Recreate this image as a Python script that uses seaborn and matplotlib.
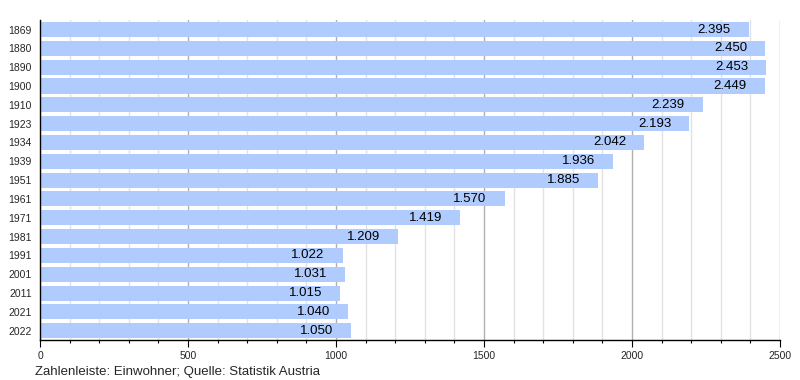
import matplotlib
matplotlib.use("Agg")
import matplotlib.pyplot as plt
from matplotlib.ticker import MultipleLocator
import seaborn as sns
import pandas as pd

# --- Daten ---
jahre = ['1869', '1880', '1890', '1900', '1910', '1923', '1934', '1939', '1951',
         '1961', '1971', '1981', '1991', '2001', '2011', '2021', '2022']
einwohner = [2395, 2450, 2453, 2449, 2239, 2193, 2042, 1936, 1885,
             1570, 1419, 1209, 1022, 1031, 1015, 1040, 1050]
quelle = 'Zahlenleiste: Einwohner; Quelle: Statistik Austria'

df = pd.DataFrame({'Jahr': jahre, 'Einwohner': einwohner})

sns.set_style("white")
plt.rcParams['font.family'] = ['Liberation Sans', 'DejaVu Sans']

fig = plt.figure(figsize=(8, 3.8), dpi=100)
ax = fig.add_axes([0.05, 0.105, 0.925, 0.842])

sns.barplot(data=df, x='Einwohner', y='Jahr', orient='h', color='#b0ccff',
            saturation=1, width=0.8, linewidth=0, ax=ax, zorder=2)

ax.set_xlim(0, 2500)
ax.set_ylim(len(jahre) - 0.5, -0.5)
ax.xaxis.set_major_locator(MultipleLocator(500))
ax.xaxis.set_minor_locator(MultipleLocator(100))
ax.grid(which='major', axis='x', color='#b0b0b0', linewidth=1, zorder=0)
ax.grid(which='minor', axis='x', color='#e2e2e2', linewidth=1, zorder=0)
ax.grid(which='major', axis='y', visible=False)
ax.set_axisbelow(True)

for s in ['top', 'right']:
    ax.spines[s].set_visible(False)
for s in ['left', 'bottom']:
    ax.spines[s].set_color('black')
    ax.spines[s].set_linewidth(1)

ax.tick_params(axis='x', which='major', length=5, width=0.8, color='black',
               labelsize=7.5, pad=3, direction='out', bottom=True)
ax.tick_params(axis='x', which='minor', length=2.5, width=0.8, color='black',
               bottom=True)
ax.tick_params(axis='y', length=0, labelsize=7.5, pad=6)
ax.set_xlabel('')
ax.set_ylabel('')

# Werte in die Balken schreiben
for i, v in enumerate(einwohner):
    txt = f'{v:,}'.replace(',', '.')
    ax.annotate(txt, xy=(v, i), xytext=(-13, 0), textcoords='offset points',
                ha='right', va='center', fontsize=9.5, color='black', zorder=3)

fig.text(35 / 800, 1 - 372 / 380, quelle, ha='left', va='center', fontsize=9.5)

fig.savefig('out.png', dpi=100)
